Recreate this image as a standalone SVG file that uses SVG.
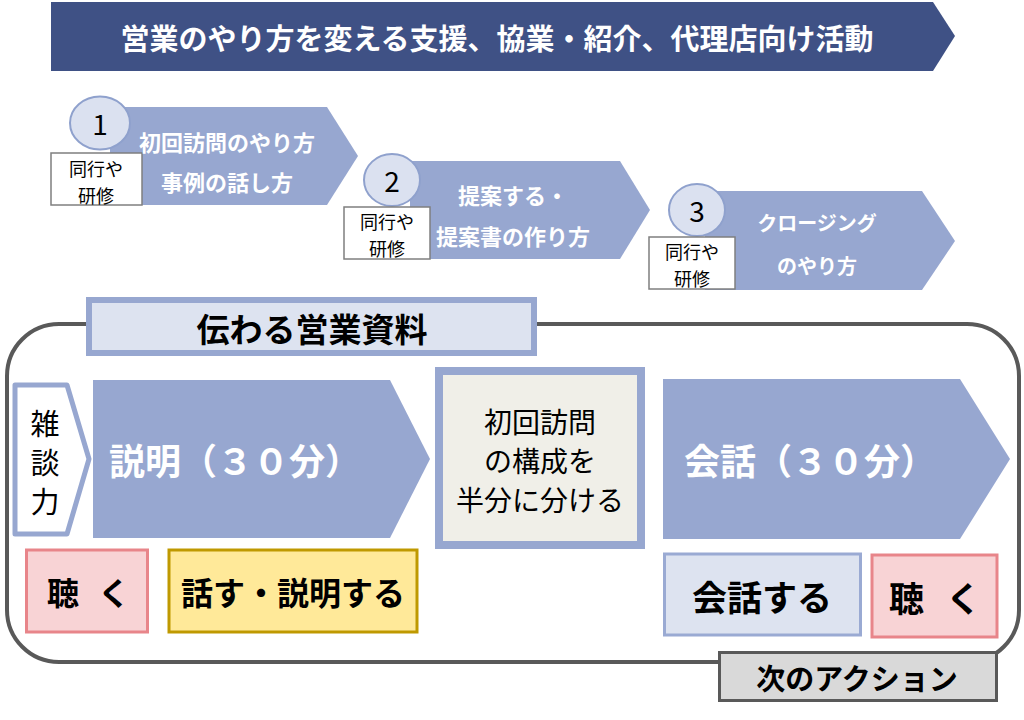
<svg xmlns="http://www.w3.org/2000/svg" width="1024" height="720" viewBox="0 0 1024 720">
<style>
text{font-family:"Noto Sans CJK JP","Noto Sans",sans-serif;dominant-baseline:central}
.w{fill:#fff;font-weight:700}
.b{fill:#000;font-weight:700}
.r{fill:#000;font-weight:400}
.arrow{fill:#97a7d0}
.circ{fill:#dbe1f0;stroke:#8fa1cd;stroke-width:2}
.tag{fill:#fff;stroke:#7f7f7f;stroke-width:1.5}
.pink{fill:#f8d3d5;stroke:#e8858a;stroke-width:3}
.blue{fill:#dde3f0;stroke:#9aaad3;stroke-width:3}
</style>
<rect width="1024" height="720" fill="#fff"/>
<g id="title">
<polygon points="51,2 933,2 955,36 933,71 51,71" fill="#3f5185"/>
<text class="w" x="497" y="37" font-size="29" text-anchor="middle">営業のやり方を変える支援、協業・紹介、代理店向け活動</text>
</g>
<g id="step1">
<polygon class="arrow" points="110,107 327,107 358,156 327,205 110,205"/>
<ellipse class="circ" cx="100" cy="123" rx="30" ry="26.5"/>
<text class="r" x="100" y="123" font-size="28" text-anchor="middle">1</text>
<rect class="tag" x="51" y="153" width="91" height="52"/>
<text class="r" x="96" y="168" font-size="18" text-anchor="middle">同行や</text>
<text class="r" x="96" y="195" font-size="18" text-anchor="middle">研修</text>
<text class="w" x="227" y="141" font-size="22" text-anchor="middle">初回訪問のやり方</text>
<text class="w" x="227" y="181" font-size="22" text-anchor="middle">事例の話し方</text>
</g>
<g id="step2">
<polygon class="arrow" points="410,161 620,161 650,210 620,259 410,259"/>
<ellipse class="circ" cx="392" cy="180" rx="28" ry="26"/>
<text class="r" x="392" y="180" font-size="28" text-anchor="middle">2</text>
<rect class="tag" x="344" y="207" width="86" height="52"/>
<text class="r" x="387" y="221" font-size="18" text-anchor="middle">同行や</text>
<text class="r" x="387" y="248" font-size="18" text-anchor="middle">研修</text>
<text class="w" x="513" y="194" font-size="22" text-anchor="middle">提案する・</text>
<text class="w" x="513" y="235" font-size="22" text-anchor="middle">提案書の作り方</text>
</g>
<g id="step3">
<polygon class="arrow" points="705,191 922,191 955,241 922,290 705,290"/>
<ellipse class="circ" cx="697" cy="210" rx="28" ry="26"/>
<text class="r" x="697" y="210" font-size="28" text-anchor="middle">3</text>
<rect class="tag" x="649" y="237" width="86" height="52"/>
<text class="r" x="692" y="251" font-size="18" text-anchor="middle">同行や</text>
<text class="r" x="692" y="278" font-size="18" text-anchor="middle">研修</text>
<text class="w" x="817" y="222" font-size="20" text-anchor="middle">クロージング</text>
<text class="w" x="817" y="265" font-size="20" text-anchor="middle">のやり方</text>
</g>
<g id="frame">
<rect x="7" y="324" width="1012" height="338" rx="52" ry="52" fill="none" stroke="#595959" stroke-width="4"/>
</g>
<g id="materials">
<rect x="89" y="300" width="445" height="53" fill="#dde3f0" stroke="#97a7d0" stroke-width="6"/>
<text class="b" x="312" y="328" font-size="33" text-anchor="middle">伝わる営業資料</text>
</g>
<g id="zatsudan">
<polygon points="15,385 67,385 89,459 67,534 15,534" fill="#fff" stroke="#97a7d0" stroke-width="5" stroke-linejoin="round"/>
<text class="r" x="45" y="422" font-size="29" text-anchor="middle">雑</text>
<text class="r" x="45" y="461" font-size="29" text-anchor="middle">談</text>
<text class="r" x="45" y="500" font-size="29" text-anchor="middle">力</text>
</g>
<g id="explain">
<polygon class="arrow" points="93,380 390,380 430,459 390,538 93,538"/>
<text class="w" x="109" y="459" font-size="36">説明（３０分）</text>
</g>
<g id="structure">
<rect x="439" y="371" width="202" height="174" fill="#f0efe8" stroke="#97a7d0" stroke-width="8"/>
<text class="r" x="540" y="421" font-size="28" text-anchor="middle">初回訪問</text>
<text class="r" x="540" y="460" font-size="28" text-anchor="middle">の構成を</text>
<text class="r" x="540" y="499" font-size="28" text-anchor="middle">半分に分ける</text>
</g>
<g id="conversation">
<polygon class="arrow" points="663,379 960,379 1010,459 960,539 663,539"/>
<text class="w" x="684" y="459" font-size="36">会話（３０分）</text>
</g>
<g id="listen-left">
<rect class="pink" x="26.5" y="550" width="121" height="82"/>
<text class="b" x="47" y="591" font-size="32">聴 <tspan x="98">く</tspan></text>
</g>
<g id="talk">
<rect x="169" y="550" width="248" height="82" fill="#ffe999" stroke="#bf9900" stroke-width="3"/>
<text class="b" x="293" y="591" font-size="32" text-anchor="middle">話す・説明する</text>
</g>
<g id="converse">
<rect class="blue" x="664.5" y="554" width="196" height="81"/>
<text class="b" x="762" y="595" font-size="35" text-anchor="middle">会話する</text>
</g>
<g id="listen-right">
<rect class="pink" x="872" y="555" width="125" height="82"/>
<text class="b" x="889" y="596" font-size="35">聴 <tspan x="946">く</tspan></text>
</g>
<g id="next-action">
<rect x="719.5" y="652.5" width="277" height="48" fill="#d9d9d9" stroke="#595959" stroke-width="3"/>
<text class="b" x="857" y="677" font-size="29" text-anchor="middle">次のアクション</text>
</g>
<g id="connectors"/>
</svg>
